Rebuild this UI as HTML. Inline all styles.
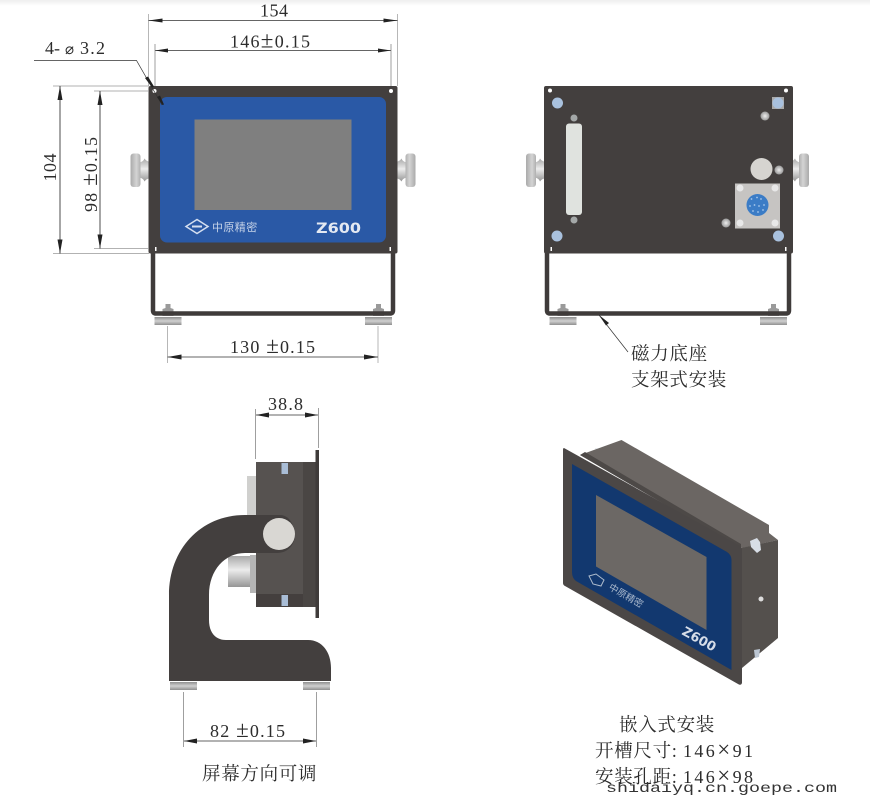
<!DOCTYPE html>
<html><head><meta charset="utf-8"><style>
html,body{margin:0;padding:0;background:#fff;width:870px;height:804px;overflow:hidden}
svg{display:block;filter:blur(.35px)}
text{font-family:"Liberation Serif","Noto Serif CJK SC",serif;fill:#2c2c2c}
.d{font-size:18px}
.b{font-size:23px}
.c{font-size:18.500px;letter-spacing:.7px}
.l{stroke:#333;stroke-width:.7;fill:none}
.g{stroke:#999;stroke-width:.7;fill:none}
.a{fill:#222}
</style></head><body>
<svg width="870" height="804" viewBox="0 0 870 804" xmlns="http://www.w3.org/2000/svg">
<defs>
<linearGradient id="top" x1="0" y1="0" x2="0" y2="1"><stop offset="0" stop-color="#eee"/><stop offset="1" stop-color="#fff"/></linearGradient>
<linearGradient id="met" x1="0" y1="0" x2="0" y2="1"><stop offset="0" stop-color="#a8a8a8"/><stop offset=".45" stop-color="#ececec"/><stop offset="1" stop-color="#969696"/></linearGradient>
<linearGradient id="head" x1="0" y1="0" x2="1" y2="0"><stop offset="0" stop-color="#aaa"/><stop offset=".6" stop-color="#d4d4d4"/><stop offset="1" stop-color="#b0b0b0"/></linearGradient>
<linearGradient id="foot" x1="0" y1="0" x2="0" y2="1"><stop offset="0" stop-color="#8f8f8f"/><stop offset=".5" stop-color="#d0d0d0"/><stop offset="1" stop-color="#909090"/></linearGradient>
<radialGradient id="ball"><stop offset="0" stop-color="#eee"/><stop offset="1" stop-color="#999"/></radialGradient>
<g id="knob"><path d="M9,9Q13,8 14,5Q16,8 19,8V25Q16,25 14,28Q13,25 9,24Z" fill="url(#met)"/><rect x="0" y="0" width="10" height="33.500" rx="3" fill="url(#head)"/></g>
<g id="foot2"><rect x="0" y="0" width="27" height="8" fill="url(#foot)"/><path d="M8,-1v-7l3,-1v-4h5v4l3,1v7z" fill="#9a9a9a"/></g>
</defs>
<rect width="870" height="6" fill="url(#top)"/>

<!-- FRONT VIEW -->
<use href="#knob" x="130.500" y="153.500"/>
<use href="#knob" transform="translate(415.500,153.500) scale(-1,1)"/>
<use href="#foot2" x="154.500" y="317"/>
<use href="#foot2" x="365" y="317"/>
<path d="M153,253V310.500q0,3 3,3H390q3,0 3,-3V253" fill="none" stroke="#3f3b3a" stroke-width="4.500"/>
<rect x="148.500" y="86" width="249" height="167.500" rx="2" fill="#433f3e"/>
<rect x="160" y="97" width="226" height="145.500" rx="7" fill="#2a59a6"/>
<rect x="194.500" y="119.500" width="157" height="90.500" fill="#7f7f7f"/>
<circle cx="154.500" cy="91" r="2" fill="#fff"/><circle cx="391" cy="91" r="2" fill="#fff"/>
<rect x="155" y="247" width="1.500" height="4" fill="#fff"/><rect x="389.500" y="247" width="1.500" height="4" fill="#fff"/>
<path d="M186,226.500l11,-7l11,7l-11,7z" fill="none" stroke="#d5dff0" stroke-width="1.500"/>
<path d="M192,226.500h10" stroke="#d5dff0" stroke-width="2"/>
<text x="212" y="231" style="font-family:'Liberation Sans','Noto Sans CJK SC',sans-serif;font-size:11px;fill:#c6d3e8;letter-spacing:.4px">中原精密</text>
<text x="316" y="233" style="font-family:'DejaVu Sans',sans-serif;font-size:14px;font-weight:bold;fill:#e4e9f2" textLength="45" lengthAdjust="spacingAndGlyphs">Z600</text>

<!-- front dims -->
<path class="g" d="M148.500,14V86M397.500,14V86"/>
<path class="l" d="M148.500,20.500H397.500M155,50.500H391"/>
<path class="l" d="M155,44V86M391,44V86" style="stroke:#777"/>
<path class="a" d="M148.500,20.500l14,-2v4zM397.500,20.500l-14,-2v4zM155,50.500l13,-2v4zM391,50.500l-13,-2v4z"/>
<text class="d" x="260" y="16.500" textLength="28">154</text>
<text class="d" x="230" y="47.500" textLength="80">146<tspan class="b">±</tspan>0.15</text>
<text class="d" x="45" y="54" textLength="15">4-</text>
<text x="65" y="54" style="font-size:15px">⌀</text>
<text class="d" x="80" y="54" textLength="25">3.2</text>
<path class="l" d="M34,60.500H136.500L162,105"/>
<path class="a" d="M145,78l3,-1.500l6,10l-2,1zM157,97l3,-1.500l4,9l-1.500,.5z"/>
<path class="g" d="M53,86H149M94,91H149M94,248.500H149M53,253.500H149"/>
<path class="l" d="M60,86V253.500M100,91V248.500" style="stroke:#222;stroke-width:.8"/>
<path class="a" d="M60,86l-2.500,14h5zM60,253.500l-2.500,-14h5zM100,91l-2.500,14h5zM100,248.500l-2.500,-14h5z"/>
<text class="d" transform="translate(56,181.500) rotate(-90)" textLength="28">104</text>
<text class="d" transform="translate(97,212) rotate(-90)" textLength="75">98 <tspan class="b">±</tspan>0.15</text>
<path class="g" d="M167.500,326V363M378,326V363"/>
<path class="l" d="M167.500,357H378"/>
<path class="a" d="M167.500,357l14,-2.500v5zM378,357l-14,-2.500v5z"/>
<text class="d" x="230" y="353" textLength="85">130 <tspan class="b">±</tspan>0.15</text>

<!-- BACK VIEW -->
<use href="#knob" x="526" y="153.500"/>
<use href="#knob" transform="translate(809,153.500) scale(-1,1)"/>
<use href="#foot2" x="549.500" y="317"/>
<use href="#foot2" x="760" y="317"/>
<path d="M547,253V310.500q0,3 3,3H786q3,0 3,-3V253" fill="none" stroke="#3f3b3a" stroke-width="4.500"/>
<rect x="544" y="86" width="249" height="167.500" rx="2" fill="#433f3e"/>
<circle cx="550" cy="90.500" r="2" fill="#fff"/><circle cx="786" cy="90.500" r="2" fill="#fff"/>
<rect x="550.500" y="247" width="1.500" height="4" fill="#fff"/><rect x="785" y="247" width="1.500" height="4" fill="#fff"/>
<circle cx="557.500" cy="103" r="5.500" fill="#a9c1de"/><circle cx="557" cy="236" r="5.500" fill="#a9c1de"/>
<circle cx="778.500" cy="236" r="5.500" fill="#a9c1de"/>
<rect x="772" y="97" width="12" height="12" fill="#aaa"/><circle cx="778" cy="103" r="5.500" fill="#a9c1de"/>
<rect x="566" y="123.500" width="16" height="91.500" rx="3" fill="#e0e3df"/>
<circle cx="574" cy="118" r="3.500" fill="#a4a8a8"/><circle cx="574" cy="220" r="3.500" fill="#a4a8a8"/>
<circle cx="765" cy="116" r="4.500" fill="url(#ball)"/><circle cx="779" cy="170" r="4.500" fill="url(#ball)"/><circle cx="726" cy="223" r="4.500" fill="url(#ball)"/>
<circle cx="761.500" cy="169" r="11" fill="#d6d4d0"/>
<rect x="735" y="183.500" width="45" height="45" fill="#c6c4c2"/>
<g fill="#e8e8e8"><circle cx="740" cy="188" r="3.500"/><circle cx="775" cy="188" r="3.500"/><circle cx="740" cy="223" r="3.500"/><circle cx="775" cy="223" r="3.500"/></g>
<circle cx="757.500" cy="205" r="11" fill="#3b7cc6"/>
<g fill="#a8c8ea"><circle cx="757" cy="197.500" r=".9"/><circle cx="751.500" cy="199" r=".9"/><circle cx="761" cy="199" r=".9"/><circle cx="750" cy="206" r=".9"/><circle cx="754.500" cy="205" r=".9"/><circle cx="759" cy="206" r=".9"/><circle cx="764" cy="205" r=".9"/><circle cx="753" cy="211" r=".9"/><circle cx="758" cy="212" r=".9"/><circle cx="763" cy="210" r=".9"/></g>
<path class="l" d="M599,315L628,352"/>
<path class="a" d="M599,315l10,8l-3,2.500z"/>
<text class="c" x="631" y="360">磁力底座</text>
<text class="c" x="631" y="386">支架式安装</text>

<!-- SIDE VIEW -->
<rect x="248" y="478" width="8" height="20" fill="#b8b8b8"/>
<rect x="247" y="476" width="9" height="45" fill="#d0d0ce"/>
<rect x="228" y="556" width="24" height="31" fill="url(#met)"/>
<rect x="250" y="555" width="6" height="38" fill="#b5b5b5"/>
<rect x="256" y="462" width="47" height="145" fill="#565250"/>
<rect x="256" y="594" width="47" height="13" fill="#443f3e"/>
<rect x="303" y="462" width="14" height="145" fill="#4a4644"/>
<rect x="315.500" y="450" width="3.500" height="168" fill="#3f3b3a"/>
<rect x="281.500" y="463" width="6.500" height="11" fill="#a9bdd6"/>
<rect x="281.500" y="595" width="6.500" height="11" fill="#a9bdd6"/>
<path d="M169,681V595C169,550 200,515 245,515H280C292,515 295,531 295,534C295,546 287,553 277,553H245C225,553 209,570 209,595V620C209,632 215,640 226,640H308C322,640 331,652 331,668V681Z" fill="#433f3e"/>
<circle cx="279" cy="534" r="16" fill="#d9d7d3"/>
<rect x="170" y="682" width="27" height="8" fill="url(#foot)"/>
<rect x="303" y="682" width="27" height="8" fill="url(#foot)"/>
<path class="g" d="M255.500,409V459M318.500,408V448M183.500,692V747M316.500,692V747" style="stroke:#777"/>
<path class="l" d="M256,415H318M184,741H316"/>
<path class="a" d="M256,415l13,-2.500v5zM318,415l-13,-2.500v5zM184,741l13,-2.500v5zM316,741l-13,-2.500v5z"/>
<text class="d" x="268" y="410" textLength="35">38.8</text>
<text class="d" x="210" y="737" textLength="75">82 <tspan class="b">±</tspan>0.15</text>
<text class="c" x="202" y="780">屏幕方向可调</text>

<!-- ISO VIEW -->
<path d="M595,448l5,1l3,4l-6,0z" fill="#dfe4ea"/>
<path d="M580,455L621.500,440L769,525V533L778,540L742,548Z" fill="#6b6663"/>
<path d="M580,455L585,452L741,544L741,549Z" fill="#4d4947"/>
<path d="M741,548L778,540V638L742,668Z" fill="#54504d"/>
<path d="M750,541l7,-3l3,4l1,8l-4,3l-6,-6z" fill="#d8dee6"/>
<path d="M754,650l6,-1l-1,8l-4,1z" fill="#bcc6d2"/>
<circle cx="761" cy="599" r="2.500" fill="#ddd"/>
<path d="M564,448L740,546Q742,548 742,550V683Q741,686 738,684L565,586Q563,585 563,583V450Q563,448 564,448Z" fill="#4b4746"/>
<path d="M572,464L727,552Q731.500,555 731.500,560V670L576,581Q572,578 572,572Z" fill="#12386f"/>
<path d="M596,495L706.500,557V630L596,566.500Z" fill="#6c6865"/>
<path d="M589,576l7,-2l8,6l-3,6l-8,-2z" fill="none" stroke="#aebccd" stroke-width="1"/>
<text transform="translate(608,589) rotate(30)" style="font-family:'Liberation Sans','Noto Sans CJK SC',sans-serif;font-size:9.500px;fill:#a9b8cc">中原精密</text>
<text transform="translate(681,634) rotate(29)" style="font-family:'DejaVu Sans',sans-serif;font-size:13px;font-weight:bold;fill:#d6dde8">Z600</text>
<text class="c" x="619" y="731">嵌入式安装</text>
<text class="c" x="595" y="757">开槽尺寸:</text>
<text class="d" x="683" y="757" textLength="70">146<tspan class="b">×</tspan>91</text>
<text class="c" x="595" y="783">安装孔距:</text>
<text class="d" x="683" y="783" textLength="70">146<tspan class="b">×</tspan>98</text>
<text x="606" y="792" style="font-family:'Liberation Mono',monospace;font-size:14px;fill:#333" textLength="231" lengthAdjust="spacingAndGlyphs">shidaiyq.cn.goepe.com</text>
</svg>
</body></html>
